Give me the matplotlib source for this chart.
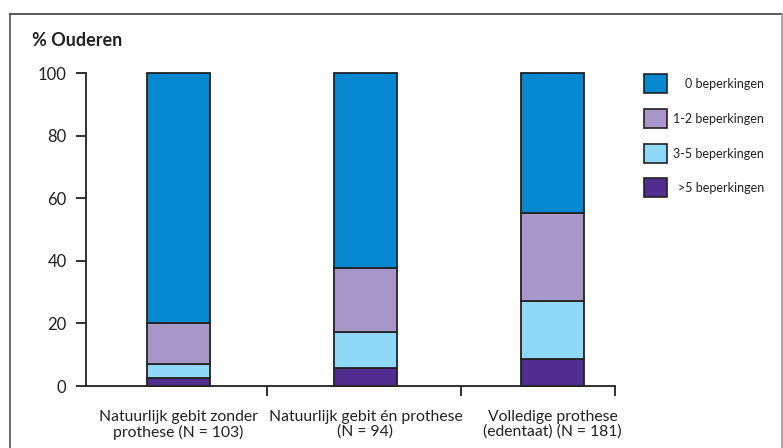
import matplotlib
matplotlib.use("Agg")
import matplotlib.pyplot as plt
from matplotlib.patches import Rectangle
from matplotlib.lines import Line2D

plt.rcParams['font.family'] = ['Lato', 'DejaVu Sans']

groups = ["Natuurlijk gebit zonder\nprothese (N = 103)",
          "Natuurlijk gebit én prothese\n(N = 94)",
          "Volledige prothese\n(edentaat) (N = 181)"]
series = [">5 beperkingen", "3-5 beperkingen", "1-2 beperkingen", "0 beperkingen"]
more5 = [2.4, 5.9, 8.6]
b3_5 = [4.6, 11.3, 18.6]
b1_2 = [13.2, 20.4, 28.1]
b0 = [79.8, 62.4, 44.7]
colors = ["#512d8f", "#8fd8f7", "#a898c9", "#0588d0"]

fig = plt.figure(figsize=(7.83, 4.48), dpi=100)
ax = fig.add_axes([86 / 783, 62 / 448, 529 / 783, 312.7 / 448])

x = [0, 1, 2]
bottom = [0, 0, 0]
for vals, c in zip([more5, b3_5, b1_2, b0], colors):
    ax.bar(x, vals, bottom=bottom, width=0.34, color=c, edgecolor="#222222",
           linewidth=1.3, clip_on=False, zorder=3)
    bottom = [b + v for b, v in zip(bottom, vals)]

ax.set_ylim(0, 100)
ax.set_xlim(-0.495, 2.335)
ax.set_yticks([0, 20, 40, 60, 80, 100])
ax.tick_params(axis="y", direction="out", length=7, width=1.3, pad=7,
               labelsize=12, colors="#222222")
ax.set_xticks([0.475, 1.51, 2.335])
ax.set_xticklabels([])
ax.tick_params(axis="x", which="major", direction="out", length=7.5, width=1.3,
               colors="#222222")
ax.set_xticks(x, minor=True)
ax.set_xticklabels(groups, minor=True, fontsize=11.3, color="#222222",
                   linespacing=1.1)
ax.tick_params(axis="x", which="minor", length=0, pad=17)
for s in ["top", "right"]:
    ax.spines[s].set_visible(False)
for s in ["left", "bottom"]:
    ax.spines[s].set_linewidth(1.3)
    ax.spines[s].set_color("#222222")

fig.text(32 / 783, 1 - 46 / 448, "% Ouderen", fontsize=13, fontweight="bold",
         color="#222222", va="baseline")

# legend drawn by hand, top entry first
leg_y = [83.5, 118.5, 153.5, 188]
for lab, c, yy in zip(series[::-1], colors[::-1], leg_y):
    fig.patches.append(Rectangle((644 / 783, 1 - (yy + 9.5) / 448), 23 / 783, 19 / 448,
                                 transform=fig.transFigure, facecolor=c,
                                 edgecolor="#222222", linewidth=1.2))
    fig.text(764 / 783, 1 - yy / 448, lab, fontsize=9, color="#222222",
             ha="right", va="center")

# outer frame
fig.lines.append(Line2D([10 / 783, 782 / 783], [1 - 14 / 448, 1 - 14 / 448],
                        transform=fig.transFigure, color="#4a4a4a", linewidth=1.3))
fig.lines.append(Line2D([10 / 783, 10 / 783], [0, 1 - 14 / 448],
                        transform=fig.transFigure, color="#555555", linewidth=1.2))
fig.lines.append(Line2D([782 / 783, 782 / 783], [0, 1 - 14 / 448],
                        transform=fig.transFigure, color="#999999", linewidth=1.2))

fig.savefig("out.png", dpi=100)
